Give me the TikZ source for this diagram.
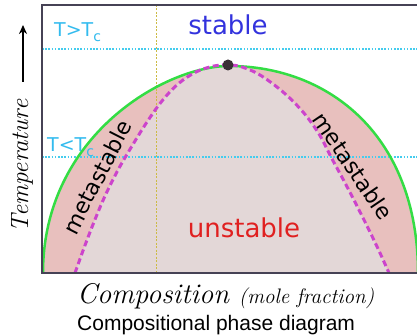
\documentclass[tikz,border=0pt]{standalone}
\usepackage{fontspec}
\usetikzlibrary{arrows.meta}
\newfontfamily\dejavu{DejaVu Sans}
\newfontfamily\arialf{Liberation Sans}
\definecolor{pinkfill}{RGB}{232,192,190}
\definecolor{innerfill}{RGB}{227,215,215}
\definecolor{grn}{RGB}{51,221,68}
\definecolor{mag}{RGB}{204,68,204}
\definecolor{cyn}{RGB}{68,204,238}
\definecolor{ylw}{RGB}{204,187,68}
\definecolor{bluetxt}{RGB}{51,51,221}
\definecolor{redtxt}{RGB}{224,32,32}
\definecolor{cyantxt}{RGB}{51,187,238}
\definecolor{framec}{RGB}{70,66,85}
\begin{document}
\begin{tikzpicture}[x=1pt,y=-1pt,
  cyandot/.style={cyn,line width=1.6pt,dash pattern=on 1.6pt off 1.6pt},
  ylwdot/.style={ylw,line width=1pt,dash pattern=on 2pt off 1.5pt},
  binodal/.style={grn,line width=2.5pt},
  spinodal/.style={mag,line width=3pt,dash pattern=on 6pt off 3.5pt},
  lbl/.style={inner sep=0pt,anchor=base},
  big/.style={font=\dejavu\fontsize{26}{26}\selectfont},
  meta/.style={font=\dejavu\fontsize{22}{22}\selectfont,inner sep=0pt},
  tc/.style={cyantxt,font=\dejavu\fontsize{19}{19}\selectfont,inner sep=0pt,anchor=base west}]
\useasboundingbox (0,0) rectangle (417,336);
\def\spin{(75,273) (84,248) (94,222) (105,196) (118,170) (132,146) (147,122) (162,101) (178,84) (196,72) (214,66) (229,65) (242,67) (260,75) (283,92) (303,112) (319,134) (331,157) (344,181) (357,206) (370,232) (380,253) (389,273)}
\begin{scope}
\clip (0,0) rectangle (417,336);
% binodal region
\coordinate (bl) at (43,273); \coordinate (bt) at (229,66); \coordinate (br) at (418,273);
\fill[pinkfill] (bl) .. controls (43,136) and (165,66) .. (bt) .. controls (329,66) and (418,136) .. (br) -- cycle;
% spinodal region
\fill[innerfill] plot[smooth,tension=0.6] coordinates {\spin} -- cycle;
% guide lines
\coordinate (c1a) at (42,49); \coordinate (c1b) at (417,49);
\coordinate (c2a) at (42,157); \coordinate (c2b) at (417,157);
\coordinate (ya) at (156,5); \coordinate (yb) at (156,273);
\draw[cyandot] (c1a) -- (c1b);
\draw[cyandot] (c2a) -- (c2b);
\draw[ylwdot] (ya) -- (yb);
% curves
\draw[binodal] (bl) .. controls (43,136) and (165,66) .. (bt) .. controls (329,66) and (418,136) .. (br);
\draw[spinodal] plot[smooth,tension=0.6] coordinates {\spin};
% frame
\coordinate (ftr) at (418,5); \coordinate (ftl) at (42,5);
\coordinate (fbl) at (42,273); \coordinate (fbr) at (418,273);
\draw[framec,line width=2pt] (ftr) -- (ftl) -- (fbl) -- (fbr);
\end{scope}
% critical point
\node[circle,fill={rgb,255:red,58;green,48;blue,53},minimum size=11pt,inner sep=0pt] (cp) at (228,65) {};
% labels
\node[lbl,big,bluetxt] (stable) at (228,35) {stable};
\node[lbl,big,redtxt] (unstable) at (244,238) {unstable};
\node[meta,rotate=63] (metaL) at (97,177) {metastable};
\node[meta,rotate=-56] (metaR) at (353,166) {metastable};
\node[tc] (tgt) at (54,37) {T>T\raisebox{-5pt}{\fontsize{14}{14}\selectfont c}};
\node[tc] (tlt) at (47,152) {T<T\raisebox{-5pt}{\fontsize{14}{14}\selectfont c}};
% axes labels
\node[inner sep=0pt,rotate=90,font=\itshape\fontsize{25}{25}\selectfont] (temp) at (22,166) {Temperature};
\coordinate (arrlo) at (23,82); \coordinate (arrhi) at (23,25);
\draw[line width=2pt,-{Stealth[length=9pt,width=8pt]}] (arrlo) -- (arrhi);
\node[lbl,anchor=base west,font=\itshape\fontsize{28.5}{28.5}\selectfont] (comp) at (77,303) {Composition {\fontsize{21}{21}\selectfont(mole fraction)}};
\node[lbl,anchor=base west,font=\arialf\fontsize{21}{21}\selectfont] (title) at (77,330) {Compositional phase diagram};
\end{tikzpicture}
\end{document}
